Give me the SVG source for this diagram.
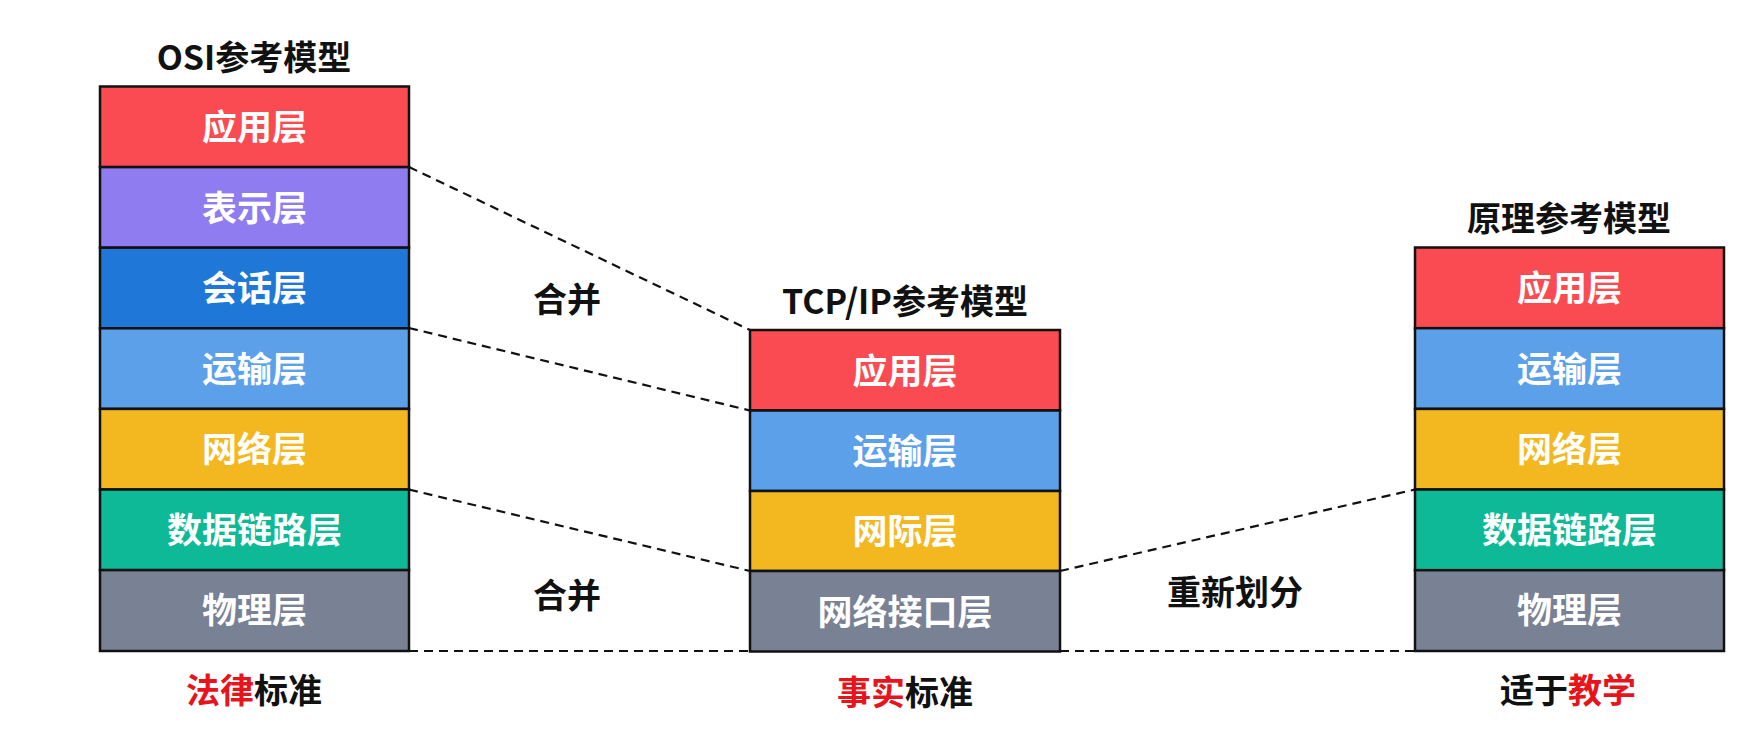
<svg xmlns="http://www.w3.org/2000/svg" width="1760" height="732" viewBox="0 0 1760 732">
<style>
text{font-family:"Noto Sans CJK SC","Noto Sans",sans-serif;font-weight:700;text-anchor:middle}
.lay{stroke:#111;stroke-width:2.5}
.lt{fill:#fff;font-size:35px}
.tt{fill:#111;font-size:34px}
.lb{fill:#111;font-size:34px}
.red{fill:#e8141c}
.app{fill:#f94b51}.pre{fill:#8e7cf0}.ses{fill:#1f78d8}.tra{fill:#5ca0ea}.net{fill:#f3b81f}.dl{fill:#0db996}.phy{fill:#798195}
.dash{stroke:#111;stroke-width:2.2;stroke-dasharray:9 6;fill:none}
</style>
<rect width="1760" height="732" fill="#fff"/>
<g id="connectors">
<line class="dash" x1="409" y1="167" x2="750" y2="330"/>
<line class="dash" x1="409" y1="328" x2="750" y2="410.5"/>
<line class="dash" x1="409" y1="489.5" x2="750" y2="571"/>
<line class="dash" x1="409" y1="651" x2="750" y2="651"/>
<line class="dash" x1="1060" y1="571" x2="1415" y2="489.5"/>
<line class="dash" x1="1060" y1="651" x2="1415" y2="651"/>
</g>
<g id="osi">
<text class="tt" x="254" y="70">OSI参考模型</text>
<rect class="lay app" x="100" y="86.5" width="309" height="80.6"/>
<rect class="lay pre" x="100" y="167.1" width="309" height="80.6"/>
<rect class="lay ses" x="100" y="247.7" width="309" height="80.6"/>
<rect class="lay tra" x="100" y="328.3" width="309" height="80.6"/>
<rect class="lay net" x="100" y="408.9" width="309" height="80.6"/>
<rect class="lay dl" x="100" y="489.5" width="309" height="80.6"/>
<rect class="lay phy" x="100" y="570.1" width="309" height="80.9"/>
<text class="lt" x="254.5" y="140">应用层</text>
<text class="lt" x="254.5" y="220.5">表示层</text>
<text class="lt" x="254.5" y="301">会话层</text>
<text class="lt" x="254.5" y="381.5">运输层</text>
<text class="lt" x="254.5" y="462">网络层</text>
<text class="lt" x="254.5" y="542.5">数据链路层</text>
<text class="lt" x="254.5" y="623">物理层</text>
<text class="lb" x="254" y="703"><tspan class="red">法律</tspan>标准</text>
</g>
<g id="tcpip">
<text class="tt" x="905" y="314">TCP/IP参考模型</text>
<rect class="lay app" x="750" y="330" width="310" height="80.5"/>
<rect class="lay tra" x="750" y="410.5" width="310" height="80.5"/>
<rect class="lay net" x="750" y="491" width="310" height="80"/>
<rect class="lay phy" x="750" y="571" width="310" height="80.5"/>
<text class="lt" x="905" y="383.5">应用层</text>
<text class="lt" x="905" y="464">运输层</text>
<text class="lt" x="905" y="544">网际层</text>
<text class="lt" x="905" y="624.5">网络接口层</text>
<text class="lb" x="905" y="705"><tspan class="red">事实</tspan>标准</text>
</g>
<g id="principle">
<text class="tt" x="1569" y="231">原理参考模型</text>
<rect class="lay app" x="1415" y="247.5" width="309" height="80.7"/>
<rect class="lay tra" x="1415" y="328.2" width="309" height="80.7"/>
<rect class="lay net" x="1415" y="408.9" width="309" height="80.6"/>
<rect class="lay dl" x="1415" y="489.5" width="309" height="80.7"/>
<rect class="lay phy" x="1415" y="570.2" width="309" height="80.8"/>
<text class="lt" x="1569.5" y="301">应用层</text>
<text class="lt" x="1569.5" y="381.5">运输层</text>
<text class="lt" x="1569.5" y="462">网络层</text>
<text class="lt" x="1569.5" y="542.5">数据链路层</text>
<text class="lt" x="1569.5" y="623">物理层</text>
<text class="lb" x="1568" y="703">适于<tspan class="red">教学</tspan></text>
</g>
<g id="labels">
<text class="lb" x="567" y="312">合并</text>
<text class="lb" x="567" y="608">合并</text>
<text class="lb" x="1235" y="605">重新划分</text>
</g>
</svg>
